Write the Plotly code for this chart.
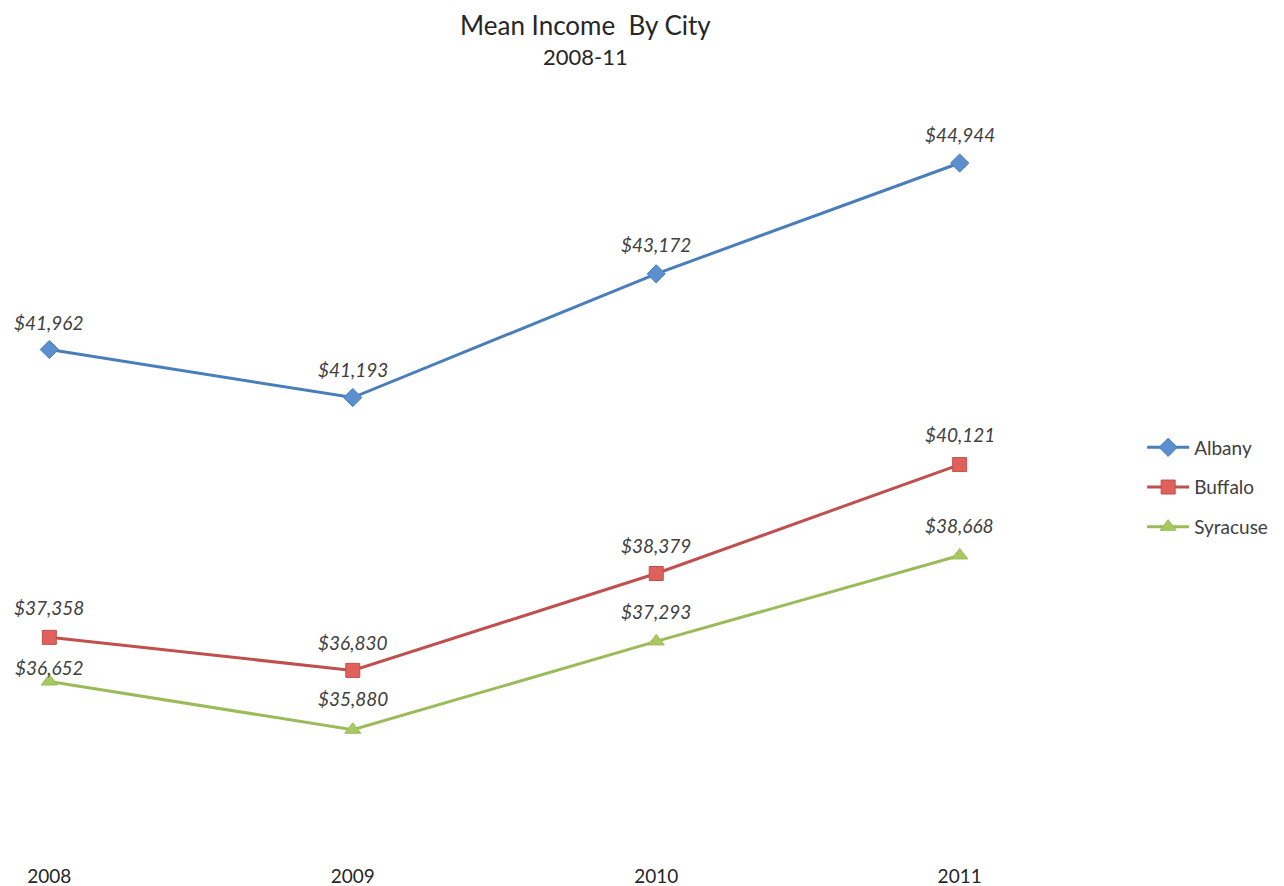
import plotly.graph_objects as go

years = ["2008", "2009", "2010", "2011"]
albany = [41962, 41193, 43172, 44944]
buffalo = [37358, 36830, 38379, 40121]
syracuse = [36652, 35880, 37293, 38668]

series = [
    ("Albany", albany, "#4A7EBB", "#5B8FD0", "diamond", 14),
    ("Buffalo", buffalo, "#C0504D", "#E0605C", "square", 14),
    ("Syracuse", syracuse, "#9BBB59", "#A8C860", "triangle-up", 14),
]
# label vertical offsets (px); one Syracuse label sits closer to avoid overlap
label_shift = {"Albany": [27, 28, 29, 29], "Buffalo": [30, 28, 28, 30],
               "Syracuse": [14, 31, 30, 30]}

FONT = "Lato, 'Open Sans', sans-serif"
W, H = 1284, 886
L, R, T, B = 11, 302, 89, 52
PW, PH = W - L - R, H - T - B

fig = go.Figure()
annotations = []
for i, (name, vals, lc, fc, sym, sz) in enumerate(series):
    xs = list(range(len(years)))
    fig.add_trace(go.Scatter(
        x=xs, y=vals, name=name, legendgroup=name,
        mode="lines+markers",
        line=dict(color=lc, width=3),
        marker=dict(symbol=sym, size=sz, color=fc, line=dict(color=lc, width=1)),
        cliponaxis=False,
    ))
    for x, v, sh in zip(xs, vals, label_shift[name]):
        annotations.append(dict(
            x=x, y=v, xref="x", yref="y", text=f"${v:,}", showarrow=False,
            yshift=sh, xanchor="center", yanchor="middle",
            font=dict(family=FONT, size=19, color="#404040", style="italic"),
        ))

def px_to_paper(xpx, ypx):
    # rendered page coords include 8px body margin
    return (xpx - 8 - L) / PW, (H - B - (ypx - 8)) / PH

tx, ty = px_to_paper(585, 8)
sx, sy = px_to_paper(585, 56)
annotations += [
    dict(text="Mean Income  By City", x=tx, y=ty, xref="paper", yref="paper",
         showarrow=False, font=dict(family=FONT, size=26, color="#262626"),
         xanchor="center", yanchor="top", borderpad=0),
    dict(text="2008-11", x=sx, y=sy, xref="paper", yref="paper",
         showarrow=False, font=dict(family=FONT, size=22, color="#262626"),
         xanchor="center", yanchor="middle"),
]

lx, ly = px_to_paper(1147, 487.5)

fig.update_layout(
    width=W, height=H,
    margin=dict(l=L, r=R, t=T, b=B, autoexpand=False),
    paper_bgcolor="white", plot_bgcolor="white",
    font=dict(family=FONT, color="#404040"),
    showlegend=True,
    legend=dict(x=lx - 0.005, xanchor="left", y=ly, yanchor="middle",
                font=dict(family=FONT, size=19, color="#404040"),
                traceorder="grouped", tracegroupgap=12, itemwidth=42,
                bgcolor="rgba(0,0,0,0)"),
    xaxis=dict(range=[-0.1, 3.1], tickvals=list(range(len(years))), ticktext=years,
               showgrid=False, zeroline=False, showline=False, ticks="",
               automargin=False,
               tickfont=dict(family=FONT, size=19, color="#262626"),
               ticklabelstandoff=21),
    yaxis=dict(range=[34085, 46000], showgrid=False, zeroline=False,
               automargin=False,
               showline=False, showticklabels=False, ticks=""),
    annotations=annotations,
)
fig.write_html("out.html")
